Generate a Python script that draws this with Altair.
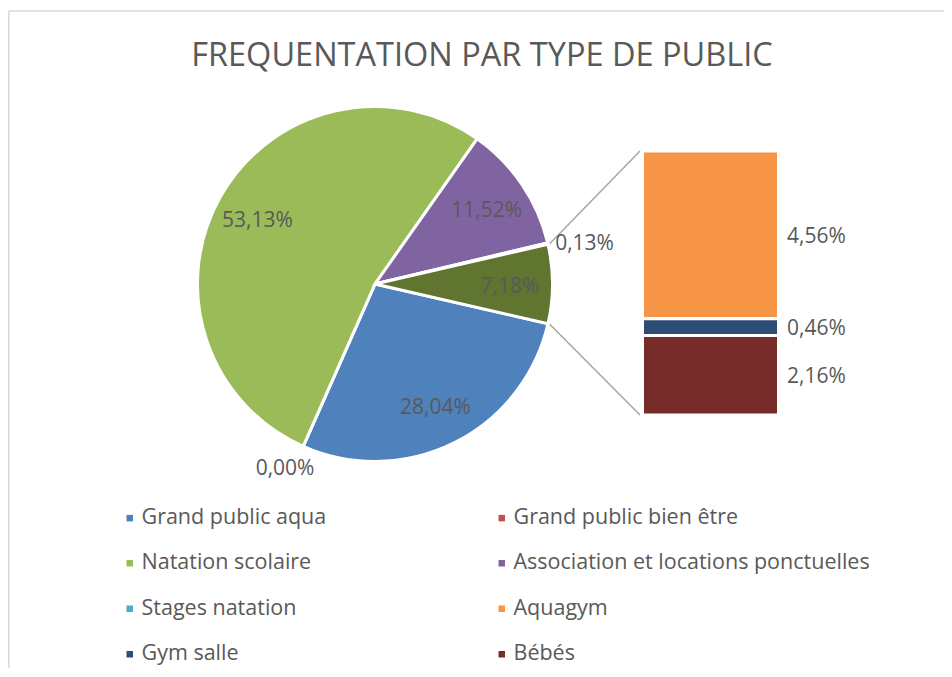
import math
import altair as alt
import pandas as pd

# ---------------- data ----------------
title_text = "FREQUENTATION PAR TYPE DE PUBLIC"
categories = [
    "Grand public aqua",
    "Grand public bien être",
    "Natation scolaire",
    "Association et locations ponctuelles",
    "Stages natation",
    "Aquagym",
    "Gym salle",
    "Bébés",
]
values = [28.04, 0.00, 53.13, 11.52, 0.13, 4.56, 0.46, 2.16]
colors = ["#4F81BD", "#C0504D", "#9BBB59", "#8064A2", "#4BACC6", "#F79646", "#2C4D75", "#772C2A"]
bar_members = ["Aquagym", "Gym salle", "Bébés"]
other_name = "Autres"
other_color = "#5F7530"


def pct(v):
    return f"{v:.2f}".replace(".", ",") + "%"


# ---------------- layout (pixels, view coordinates) ----------------
W, H = 936, 580
PAD_TOP = 80
CX, CY, R = 367, 196, 176
BAR_L, BAR_R, BAR_T, BAR_B = 636, 769, 63, 327
FONT = "Open Sans"
TXT = "#595959"
FRAME_Y = -77

# ---------------- derived tables ----------------
pie_names = [c for c in categories if c not in bar_members] + [other_name]
pie_vals = [v for c, v in zip(categories, values) if c not in bar_members]
other_total = sum(v for c, v in zip(categories, values) if c in bar_members)
pie_vals = pie_vals + [other_total]
total = sum(pie_vals)
pie_df = pd.DataFrame({
    "name": pie_names,
    "value": pie_vals,
    "idx": list(range(len(pie_names))),
    "label": [pct(v) for v in pie_vals],
})

bar_vals = [v for c, v in zip(categories, values) if c in bar_members]
bar_df = pd.DataFrame({
    "name": bar_members,
    "value": bar_vals,
    "idx": list(range(len(bar_members))),
    "label": [pct(v) for v in bar_vals],
})

# the "other" slice is centred at 3 o'clock
frac = other_total / total
theta0 = math.pi / 2 + math.pi * frac
theta_scale = alt.Scale(range=[theta0, theta0 + 2 * math.pi])

# connector lines: edges of the "other" slice -> corners of the bar
a1 = theta0 + 2 * math.pi * (total - other_total) / total
a2 = theta0 + 2 * math.pi
RC = R + 3
conn_df = pd.DataFrame({
    "x": [CX + RC * math.sin(a1), CX + RC * math.sin(a2)],
    "y": [CY - RC * math.cos(a1), CY - RC * math.cos(a2)],
    "x2": [BAR_L - 4, BAR_L - 4],
    "y2": [BAR_T, BAR_B],
})

color_enc = alt.Color(
    "name:N",
    scale=alt.Scale(domain=categories + [other_name], range=colors + [other_color]),
    legend=alt.Legend(
        values=categories,
        orient="none",
        legendX=111,
        legendY=419,
        direction="horizontal",
        columns=2,
        columnPadding=164,
        rowPadding=22.5,
        symbolType="square",
        symbolSize=42,
        symbolStrokeWidth=0,
        labelFont=FONT,
        labelFontSize=21.5,
        labelColor=TXT,
        labelOffset=1,
        labelLimit=600,
        title=None,
        padding=0,
    ),
)

theta_enc = alt.Theta("value:Q", stack=True, scale=theta_scale)
order_enc = alt.Order("idx:Q", sort="ascending")

pie = alt.Chart(pie_df).mark_arc(outerRadius=R + 1.5, stroke="white", strokeWidth=3).encode(
    theta=theta_enc, order=order_enc, color=color_enc, x=alt.value(CX), y=alt.value(CY)
)

inside = alt.Chart(pie_df).mark_text(
    radius=135, font=FONT, fontSize=21, color=TXT, align="center", baseline="middle", dy=3
).encode(
    theta=theta_enc, order=order_enc, x=alt.value(CX), y=alt.value(CY),
    text=alt.condition("datum.value >= 1", alt.Text("label:N"), alt.value("")),
)

side_expr = f"sin({theta0} + 2*PI*(datum.cum - datum.value/2)/{total})"

outside_right = alt.Chart(pie_df).transform_window(
    cum="sum(value)", sort=[alt.SortField("idx", order="ascending")]
).transform_calculate(side=side_expr).mark_text(
    radius=185, font=FONT, fontSize=21, color=TXT, align="left", baseline="middle", dy=2
).encode(
    theta=theta_enc, order=order_enc, x=alt.value(CX), y=alt.value(CY),
    text=alt.condition("datum.value < 1 && datum.side >= 0", alt.Text("label:N"), alt.value("")),
)

outside_left = alt.Chart(pie_df).transform_window(
    cum="sum(value)", sort=[alt.SortField("idx", order="ascending")]
).transform_calculate(side=side_expr).mark_text(
    radius=200, font=FONT, fontSize=21, color=TXT, align="center", baseline="middle", dx=-9, dy=2
).encode(
    theta=theta_enc, order=order_enc, x=alt.value(CX), y=alt.value(CY),
    text=alt.condition("datum.value < 1 && datum.side < 0", alt.Text("label:N"), alt.value("")),
)

bar_y_scale = alt.Scale(domain=[0, other_total], range=[BAR_B, BAR_T], nice=False, zero=True)

bar_base = alt.Chart(bar_df).transform_window(
    cum="sum(value)", sort=[alt.SortField("idx", order="descending")]
).transform_calculate(
    y0="datum.cum - datum.value", mid="datum.cum - datum.value/2"
)

bars = bar_base.mark_rect(stroke="white", strokeWidth=3).encode(
    x=alt.value(BAR_L - 1.5),
    x2=alt.value(BAR_R + 1.5),
    y=alt.Y("cum:Q", scale=bar_y_scale, axis=None),
    y2="y0:Q",
    color=color_enc,
)

bar_labels = bar_base.mark_text(
    font=FONT, fontSize=21, color=TXT, align="left", baseline="middle", dy=2
).encode(
    x=alt.value(BAR_R + 10),
    y=alt.Y("mid:Q", scale=bar_y_scale, axis=None),
    text="label:N",
)

connectors = alt.Chart(conn_df).mark_rule(color="#A6A6A6", strokeWidth=1.5).encode(
    x=alt.X("x:Q", scale=None), y=alt.Y("y:Q", scale=None), x2="x2:Q", y2="y2:Q"
)

frame_df = pd.DataFrame({"k": [0]})
frame_top = alt.Chart(frame_df).mark_rule(color="#D9D9D9", strokeWidth=1.5).encode(
    x=alt.value(0.75), x2=alt.value(W), y=alt.value(FRAME_Y)
)
frame_left = alt.Chart(frame_df).mark_rule(color="#D9D9D9", strokeWidth=1.5).encode(
    x=alt.value(0.75), y=alt.value(FRAME_Y), y2=alt.value(H)
)

chart = alt.layer(
    frame_top, frame_left, connectors, pie, inside, outside_right, outside_left, bars, bar_labels
).resolve_scale(
    x="independent", y="independent"
).properties(
    width=W,
    height=H,
    autosize=alt.AutoSizeParams(type="none"),
    padding={"left": 0, "top": PAD_TOP, "right": 0, "bottom": 0},
    title=alt.TitleParams(
        title_text, font=FONT, fontSize=32.5, fontWeight="normal", color=TXT,
        anchor="middle", frame="group", offset=0, baseline="alphabetic", dx=6, dy=88,
    ),
).configure_view(stroke=None)

chart.save("out.html", embed_options={"renderer": "svg", "actions": False})
